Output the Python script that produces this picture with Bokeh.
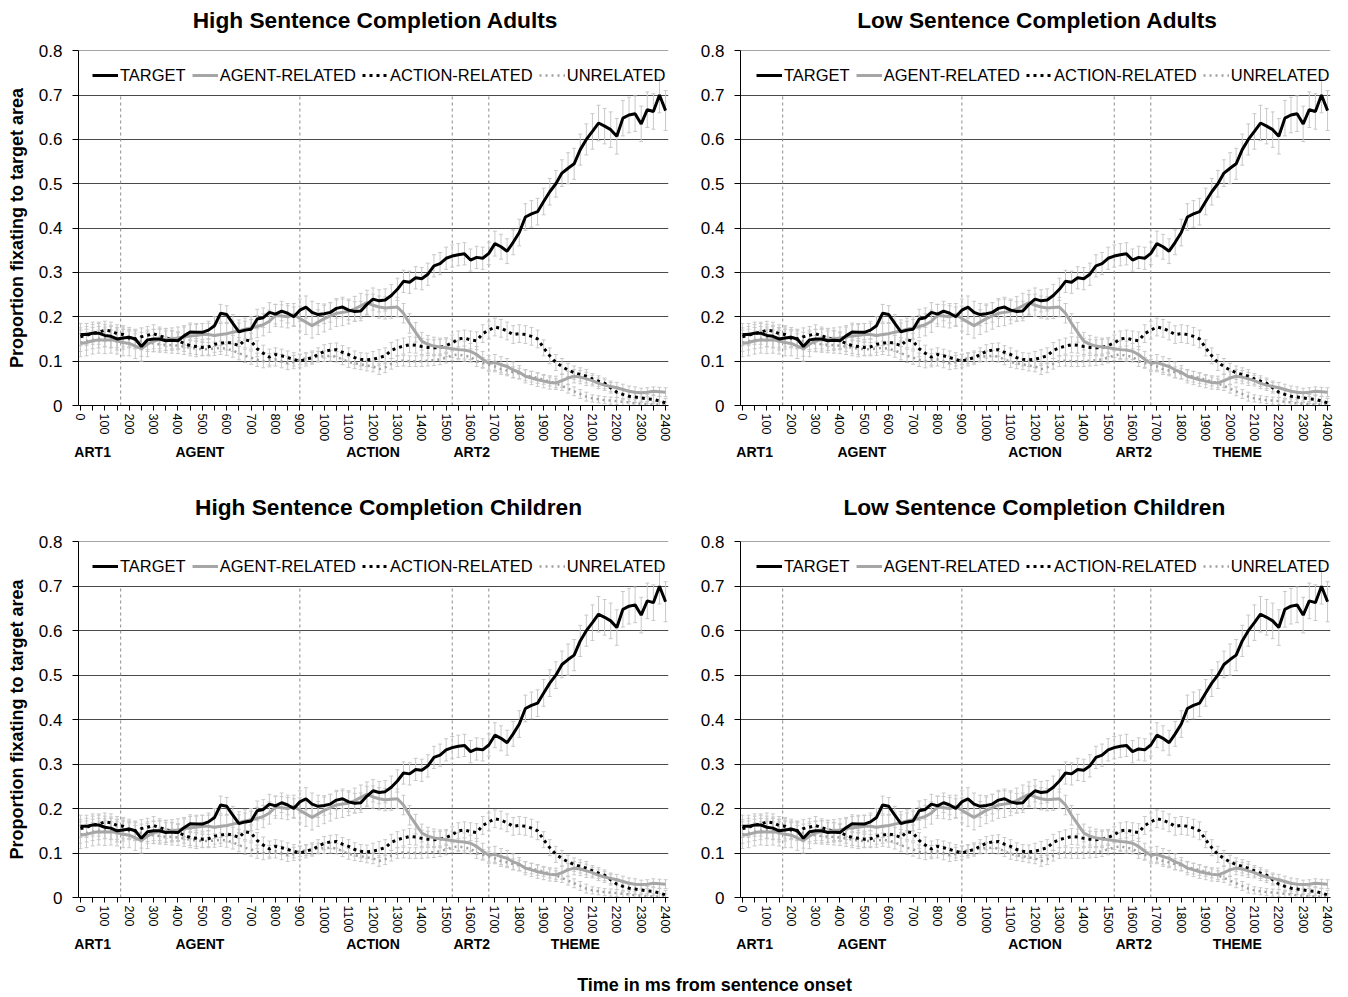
from bokeh.plotting import figure
from bokeh.models import (Range1d, FixedTicker, LinearAxis, Legend, LegendItem,
                          ColumnDataSource)
from bokeh.core.properties import value
from bokeh.layouts import column, row
from bokeh.embed import file_html
from bokeh.resources import INLINE

FONT = "Liberation Sans"

# ---------------- data ----------------
time_ms = list(range(0, 2401, 25))

target = [.160, .160, .163, .163, .158, .156, .150, .152, .154, .150,
          .133, .148, .150, .150, .146, .147, .146, .157, .166, .165,
          .165, .170, .180, .208, .205, .185, .166, .170, .172, .195,
          .198, .210, .206, .213, .208, .200, .215, .222, .210, .205,
          .207, .210, .219, .222, .215, .212, .213, .228, .240, .236,
          .238, .248, .262, .280, .278, .288, .286, .296, .315, .320,
          .332, .337, .340, .342, .328, .334, .332, .343, .365, .358,
          .348, .368, .390, .425, .432, .437, .460, .482, .500, .524,
          .535, .545, .577, .600, .618, .637, .630, .622, .607, .648,
          .655, .658, .635, .667, .663, .700, .665]

agent_related = [.140, .142, .146, .148, .147, .148, .146, .142, .140, .134,
                 .128, .138, .146, .148, .149, .150, .152, .155, .157, .158,
                 .160, .160, .158, .160, .162, .165, .168, .172, .175, .178,
                 .182, .190, .203, .202, .200, .205, .196, .188, .180, .188,
                 .196, .202, .208, .210, .212, .218, .225, .232, .226, .222,
                 .220, .221, .222, .208, .185, .165, .145, .138, .134, .132,
                 .130, .128, .126, .125, .122, .115, .104, .095, .097, .092,
                 .088, .080, .075, .066, .062, .058, .055, .052, .051, .056,
                 .062, .066, .064, .060, .056, .050, .046, .043, .040, .036,
                 .032, .030, .029, .030, .032, .031, .030]

action_related = [.155, .158, .163, .165, .170, .168, .162, .160, .152, .150,
                  .155, .158, .162, .157, .153, .148, .146, .140, .135, .133,
                  .131, .132, .138, .140, .143, .140, .135, .148, .145, .128,
                  .118, .109, .115, .112, .108, .104, .100, .104, .108, .115,
                  .122, .125, .126, .120, .115, .108, .104, .103, .104, .108,
                  .112, .124, .130, .134, .137, .136, .133, .131, .130, .131,
                  .135, .141, .150, .152, .148, .146, .162, .170, .177, .174,
                  .168, .160, .162, .160, .156, .150, .130, .112, .097, .088,
                  .080, .074, .070, .066, .060, .055, .050, .040, .030, .025,
                  .021, .019, .017, .015, .014, .010, .006]

unrelated = [.142, .145, .148, .150, .152, .150, .150, .152, .150, .148,
             .145, .142, .140, .138, .137, .136, .135, .133, .130, .128,
             .127, .127, .128, .130, .128, .124, .118, .112, .108, .103,
             .100, .102, .104, .100, .096, .098, .104, .106, .108, .110,
             .111, .112, .110, .104, .098, .095, .093, .090, .088, .082,
             .086, .094, .100, .101, .100, .100, .100, .101, .102, .104,
             .108, .113, .115, .112, .110, .100, .096, .092, .088, .082,
             .079, .075, .072, .068, .065, .062, .058, .054, .050, .044,
             .038, .032, .026, .020, .016, .014, .012, .011, .010, .008,
             .007, .005, .004, .003, .002, .002, .002]

# error-bar half widths, one value per 100 ms bin (0, 100, ... 2400)
target_err = [.025, .025, .022, .022, .020, .020, .020, .022, .022, .025,
              .022, .022, .025, .025, .025, .025, .025, .028, .030, .030,
              .035, .040, .040, .040, .045]
agent_err = [.030, .030, .028, .025, .025, .025, .025, .025, .025, .028,
             .030, .028, .025, .022, .020, .020, .018, .018, .015, .015,
             .015, .012, .012, .010, .010]
action_err = [.020, .020, .020, .020, .018, .018, .018, .018, .015, .015,
              .015, .015, .018, .018, .018, .018, .020, .020, .020, .018,
              .015, .012, .012, .010, .010]
unrelated_err = [.020, .020, .020, .018, .018, .015, .015, .015, .015, .012,
                 .012, .012, .012, .012, .012, .012, .012, .012, .012, .010,
                 .010, .008, .008, .006, .006]

series_names = ["TARGET", "AGENT-RELATED", "ACTION-RELATED", "UNRELATED"]
boundaries_ms = [165, 900, 1525, 1675]
region_ticks = [50, 490, 1200, 1605, 2030]
region_labels = ["ART1", "AGENT", "ACTION", "ART2", "THEME"]
y_ticks = [0, 0.1, 0.2, 0.3, 0.4, 0.5, 0.6, 0.7, 0.8]
y_tick_labels = ["0", "0.1", "0.2", "0.3", "0.4", "0.5", "0.6", "0.7", "0.8"]
x_ticks = list(range(0, 2401, 100))
x_minor = list(range(50, 2400, 100))

top_titles = ["High Sentence Completion Adults", "Low Sentence Completion Adults"]
bottom_titles = ["High Sentence Completion Children", "Low Sentence Completion  Children"]
y_axis_title = "Proportion fixating to target area"
x_axis_title = "Time in ms from sentence onset"

styles = {
    "TARGET": dict(line_color="black", line_width=3, line_dash="solid"),
    "AGENT-RELATED": dict(line_color="#a6a6a6", line_width=3, line_dash="solid"),
    "ACTION-RELATED": dict(line_color="black", line_width=3, line_dash="3 4"),
    "UNRELATED": dict(line_color="#a0a0a0", line_width=2.5, line_dash="2 4"),
}
series_vals = {"TARGET": target, "AGENT-RELATED": agent_related,
               "ACTION-RELATED": action_related, "UNRELATED": unrelated}
series_err = {"TARGET": target_err, "AGENT-RELATED": agent_err,
              "ACTION-RELATED": action_err, "UNRELATED": unrelated_err}

PAGE_W = 1338


def make_panel(border_left, border_right, border_top, border_bottom,
               frame_h, ylabel, legend_x):
    p = figure(frame_width=590, frame_height=frame_h, x_range=Range1d(-8, 2412),
               y_range=Range1d(0, 0.8005), output_backend="svg",
               toolbar_location=None, min_border_left=border_left,
               min_border_right=border_right, min_border_top=border_top,
               min_border_bottom=border_bottom)
    p.outline_line_color = None
    p.background_fill_color = "white"
    p.border_fill_color = "white"

    p.xgrid.visible = False
    p.ygrid.ticker = FixedTicker(ticks=y_ticks)
    p.ygrid.grid_line_color = "#4a4a4a"
    p.ygrid.grid_line_width = 1

    ya = p.yaxis[0]
    ya.ticker = FixedTicker(ticks=y_ticks)
    ya.major_label_overrides = {t: l for t, l in zip(y_ticks, y_tick_labels)}
    ya.major_label_text_font = FONT
    ya.major_label_text_font_size = "17px"
    ya.major_label_text_color = "black"
    ya.major_tick_out = 6
    ya.major_tick_in = 0
    ya.minor_tick_line_color = None
    ya.major_label_standoff = 10
    ya.axis_line_color = "black"
    if ylabel:
        ya.axis_label = ylabel
        ya.axis_label_text_font = FONT
        ya.axis_label_text_font_size = "18px"
        ya.axis_label_text_font_style = "bold"
        ya.axis_label_text_color = "black"
        ya.axis_label_standoff = 9

    xa = p.xaxis[0]
    xa.ticker = FixedTicker(ticks=x_ticks, minor_ticks=x_minor)
    xa.major_label_orientation = "vertical"
    xa.major_label_text_font = FONT
    xa.major_label_text_font_size = "12.5px"
    xa.major_label_text_color = "black"
    xa.major_tick_out = 5
    xa.major_tick_in = 0
    xa.minor_tick_out = 5
    xa.minor_tick_in = 0
    xa.major_label_standoff = 3
    xa.axis_line_color = "black"

    ra = LinearAxis(ticker=FixedTicker(ticks=region_ticks),
                    major_label_overrides={t: l for t, l in zip(region_ticks, region_labels)})
    ra.axis_line_color = None
    ra.major_tick_line_color = None
    ra.minor_tick_line_color = None
    ra.major_tick_out = 0
    ra.major_tick_in = 0
    ra.major_label_text_font = FONT
    ra.major_label_text_font_size = "14px"
    ra.major_label_text_font_style = "bold"
    ra.major_label_text_color = "black"
    ra.major_label_standoff = -1
    p.add_layout(ra, "below")

    # word boundaries
    p.segment(x0=boundaries_ms, x1=boundaries_ms, y0=[0] * len(boundaries_ms),
              y1=[0.7] * len(boundaries_ms), line_color="#8c8c8c",
              line_width=1, line_dash="3 3")

    # error bars
    for name in series_names:
        vals = series_vals[name]
        eb = series_err[name]
        e = [eb[i // 4] for i in range(len(vals))]
        src = ColumnDataSource(dict(
            t=time_ms, lo=[v - d for v, d in zip(vals, e)],
            hi=[v + d for v, d in zip(vals, e)],
            tl=[t - 8 for t in time_ms], tr=[t + 8 for t in time_ms]))
        p.segment(x0="t", x1="t", y0="lo", y1="hi", source=src,
                  line_color="#c8c8c8", line_width=1)
        p.segment(x0="tl", x1="tr", y0="hi", y1="hi", source=src,
                  line_color="#c8c8c8", line_width=1)
        p.segment(x0="tl", x1="tr", y0="lo", y1="lo", source=src,
                  line_color="#c8c8c8", line_width=1)

    renderers = {}
    for name in ["UNRELATED", "ACTION-RELATED", "AGENT-RELATED", "TARGET"]:
        renderers[name] = p.line(time_ms, series_vals[name], **styles[name])

    legend = Legend(items=[LegendItem(label=n, renderers=[renderers[n]])
                           for n in series_names],
                    orientation="horizontal", location=(legend_x, frame_h - 35),
                    background_fill_alpha=0, border_line_alpha=0,
                    padding=0, margin=0, spacing=6, label_standoff=2,
                    glyph_width=26, glyph_height=20, label_height=20,
                    label_text_font=FONT, label_text_font_size="16.5px",
                    label_text_color="black")
    p.add_layout(legend, "center")
    return p


def text_strip(height, texts, xs, y, size):
    s = figure(width=PAGE_W, height=height, x_range=Range1d(0, PAGE_W),
               y_range=Range1d(0, height), output_backend="svg",
               toolbar_location=None, min_border=0,
               x_axis_location=None, y_axis_location=None)
    s.outline_line_color = None
    s.xgrid.visible = False
    s.ygrid.visible = False
    s.text(x=xs, y=[y] * len(texts), text=texts, text_font=value(FONT),
           text_font_style="bold", text_font_size=size, text_align="center",
           text_baseline="middle", text_color="black")
    return s


t1 = text_strip(40, top_titles, [375, 1037], 21, "22.7px")
p1 = make_panel(78, 4, 10, 85, 355, y_axis_title, 14)
p2 = make_panel(68, 8, 10, 85, 355, None, 16)
t2 = text_strip(40, bottom_titles, [388, 1037], 24, "22.7px")
p3 = make_panel(78, 4, 11, 58, 356, y_axis_title, 14)
p4 = make_panel(68, 8, 11, 58, 356, None, 16)
t3 = text_strip(40, [x_axis_title], [714], 11, "18px")

layout = column(t1, row(p1, p2), t2, row(p3, p4), t3)
open("out.html", "w").write(file_html(layout, INLINE))
